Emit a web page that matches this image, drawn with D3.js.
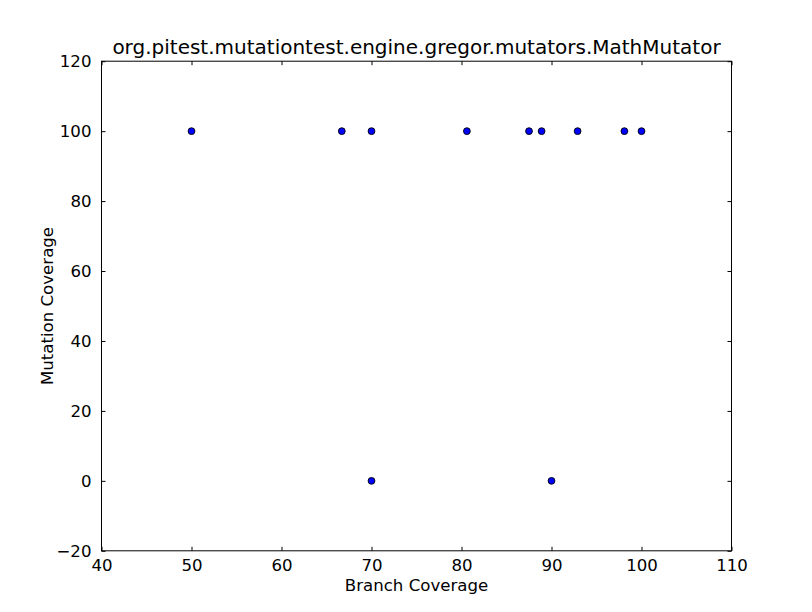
<!DOCTYPE html>
<html>
<head>
<meta charset="utf-8">
<script src="https://cdn.jsdelivr.net/npm/d3@7"></script>
<style>
  html, body { margin: 0; padding: 0; background: #fff; }
  svg { display: block; }
  text { font-family: "DejaVu Sans", sans-serif; fill: #000; }
</style>
</head>
<body>
<svg id="chart" width="812" height="612"></svg>
<script>
const title = "org.pitest.mutationtest.engine.gregor.mutators.MathMutator";
const xLabel = "Branch Coverage";
const yLabel = "Mutation Coverage";
const branchCoverage = [50, 66.7, 70, 80.6, 87.5, 88.9, 92.9, 98.1, 100, 70, 90];
const mutationCoverage = [100, 100, 100, 100, 100, 100, 100, 100, 100, 0, 0];
const xTicks = [40, 50, 60, 70, 80, 90, 100, 110];
const yTicks = [-20, 0, 20, 40, 60, 80, 100, 120];

(function () {
const svg = d3.select("#chart");
const mLeft = 101.5, mRight = 731.5, mTop = 61.2, mBottom = 550.8;
const fs = "16.6px";

const x = d3.scaleLinear().domain([40, 110]).range([mLeft, mRight]);
const y = d3.scaleLinear().domain([-20, 120]).range([mBottom, mTop]);

const tickLen = 4;

const gx = svg.append("g").attr("transform", `translate(0,${mBottom})`)
  .call(d3.axisBottom(x).tickValues(xTicks).tickSizeInner(-tickLen).tickSizeOuter(0).tickPadding(10));
const gxt = svg.append("g").attr("transform", `translate(0,${mTop})`)
  .call(d3.axisTop(x).tickValues(xTicks).tickSizeInner(-tickLen).tickSizeOuter(0).tickFormat(""));
const gy = svg.append("g").attr("transform", `translate(${mLeft},0)`)
  .call(d3.axisLeft(y).tickValues(yTicks).tickSizeInner(-tickLen).tickSizeOuter(0).tickPadding(10)
    .tickFormat(d => d < 0 ? "\u2212" + Math.abs(d) : d));
const gyr = svg.append("g").attr("transform", `translate(${mRight},0)`)
  .call(d3.axisRight(y).tickValues(yTicks).tickSizeInner(-tickLen).tickSizeOuter(0).tickFormat(""));

[gx, gxt, gy, gyr].forEach(g => {
  g.select(".domain").remove();
  g.selectAll(".tick line").attr("stroke", "#000").attr("stroke-width", 1);
  g.selectAll(".tick text").style("font-family", "DejaVu Sans, sans-serif").style("font-size", fs).attr("fill", "#000");
});
gx.selectAll(".tick text").attr("dy", "0.71em").attr("y", 8);

svg.append("rect")
  .attr("x", mLeft).attr("y", mTop)
  .attr("width", mRight - mLeft).attr("height", mBottom - mTop)
  .attr("fill", "none").attr("stroke", "#000").attr("stroke-width", 1);

const data = branchCoverage.map((b, i) => ({ b, m: mutationCoverage[i] }));
svg.append("g").selectAll("circle").data(data).join("circle")
  .attr("cx", d => x(d.b)).attr("cy", d => y(d.m))
  .attr("r", 3.4)
  .attr("fill", "#0000ff").attr("stroke", "#000").attr("stroke-width", 0.9);

svg.append("text").attr("x", (mLeft + mRight) / 2).attr("y", mTop - 7)
  .attr("text-anchor", "middle").style("font-size", "20px").text(title);

svg.append("text").attr("x", (mLeft + mRight) / 2).attr("y", 591)
  .attr("text-anchor", "middle").style("font-size", fs).text(xLabel);

svg.append("text").attr("transform", `translate(53,${(mTop + mBottom) / 2}) rotate(-90)`)
  .attr("text-anchor", "middle").style("font-size", fs).text(yLabel);
})();
</script>
</body>
</html>
